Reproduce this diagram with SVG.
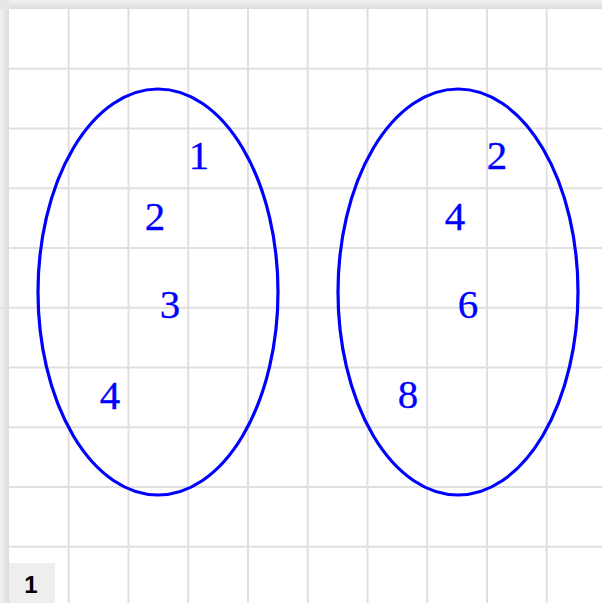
<svg xmlns="http://www.w3.org/2000/svg" width="602" height="603" viewBox="0 0 602 603">
<defs>
<linearGradient id="shL" x1="0" y1="0" x2="1" y2="0"><stop offset="0" stop-color="#f2f2f2"/><stop offset="1" stop-color="#dcdcdc"/></linearGradient>
<linearGradient id="shT" x1="0" y1="0" x2="0" y2="1"><stop offset="0" stop-color="#f2f2f2"/><stop offset="1" stop-color="#dcdcdc"/></linearGradient>
<style>
.grid line{stroke:#e0e0e0;stroke-width:2}
.ell{fill:none;stroke:#0000ff;stroke-width:3.2}
.num{font-family:"Liberation Serif","DejaVu Serif",serif;font-size:41px;fill:#0000ff;stroke:#0000ff;stroke-width:0.3;text-anchor:middle}
</style>
</defs>
<rect x="0" y="0" width="602" height="603" fill="#ffffff"/>
<rect x="0" y="0" width="9" height="603" fill="url(#shL)"/>
<rect x="0" y="0" width="602" height="9" fill="url(#shT)"/>
<rect x="0" y="0" width="9" height="9" fill="#e6e6e6"/>
<g class="grid">
<line x1="68.7" y1="9" x2="68.7" y2="603"/>
<line x1="128.5" y1="9" x2="128.5" y2="603"/>
<line x1="188.2" y1="9" x2="188.2" y2="603"/>
<line x1="248" y1="9" x2="248" y2="603"/>
<line x1="307.7" y1="9" x2="307.7" y2="603"/>
<line x1="367.5" y1="9" x2="367.5" y2="603"/>
<line x1="427.2" y1="9" x2="427.2" y2="603"/>
<line x1="487" y1="9" x2="487" y2="603"/>
<line x1="546.7" y1="9" x2="546.7" y2="603"/>
<line x1="9" y1="68.7" x2="602" y2="68.7"/>
<line x1="9" y1="128.5" x2="602" y2="128.5"/>
<line x1="9" y1="188.2" x2="602" y2="188.2"/>
<line x1="9" y1="248" x2="602" y2="248"/>
<line x1="0" y1="307.7" x2="602" y2="307.7"/>
<line x1="9" y1="367.5" x2="602" y2="367.5"/>
<line x1="9" y1="427.2" x2="602" y2="427.2"/>
<line x1="9" y1="487" x2="602" y2="487"/>
<line x1="9" y1="546.7" x2="602" y2="546.7"/>
</g>
<g id="set-left">
<ellipse class="ell" cx="158" cy="292" rx="120" ry="203"/>
<text class="num" x="199" y="169">1</text>
<text class="num" x="155" y="230">2</text>
<text class="num" x="170" y="318">3</text>
<text class="num" x="110" y="409">4</text>
</g>
<g id="set-right">
<ellipse class="ell" cx="458" cy="292" rx="120" ry="203"/>
<text class="num" x="497" y="169">2</text>
<text class="num" x="455" y="230">4</text>
<text class="num" x="468" y="318">6</text>
<text class="num" x="408" y="408">8</text>
</g>
<g id="label">
<rect x="9" y="563" width="46" height="40" fill="#eeeeee"/>
<text x="31" y="593" font-family="'Liberation Sans',Arial,sans-serif" font-weight="bold" font-size="24" text-anchor="middle" fill="#000000">1</text>
</g>
<g id="connectors"/>
</svg>
